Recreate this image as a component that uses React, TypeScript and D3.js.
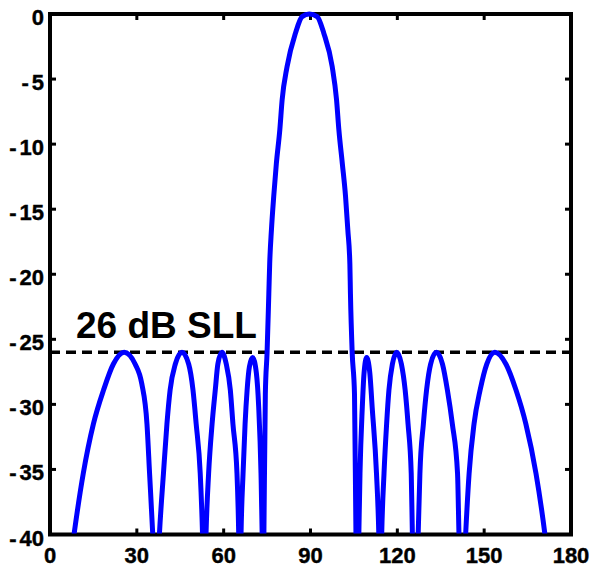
import React from "react";
import * as d3 from "d3";

// Array factor (dB) vs angle (deg)
const angleDeg: number[] = [
  6, 8.3, 11.5, 15.0, 18.5, 21.9, 25.6, 29.4, 31.7, 33.5, 34.4, 35.5, 36.6,
  37.8, 39.2, 40.4, 41.5, 43.3, 45.6, 47.9, 49.4, 50.5, 51.9, 52.7, 53.3,
  53.9, 54.8, 56.0, 57.1, 58.0, 59.4, 60.9, 62.3, 63.2, 64.6, 65.2, 65.6,
  66.0, 66.7, 67.4, 68.1, 68.9, 70.0, 71.3, 72.1, 72.9, 73.3, 73.6,
  73.9, 74.4, 75.0, 75.6, 75.9, 76.5, 77.3, 78.2, 79.4, 80.2, 81.9, 84.8, 87.1, 89.6,
  92.3, 94.6, 97.5, 99.0, 99.8, 101.0, 102.1, 102.9, 103.6, 103.8, 104.4, 105.2, 105.7, 106.2,
  106.7, 107.1, 107.9, 108.5, 109.4, 110.5, 111.3, 112.8, 113.6, 114.1,
  114.6, 115.4, 116.3, 117.1, 118.3, 119.8, 121.4, 122.7, 123.7, 124.8, 125.2, 126.2,
  127.2, 127.8, 129.0, 130.1, 131.5, 133.5, 135.6, 137.3, 139.0, 140.8, 141.3, 142.4,
  143.6, 144.8, 146.5, 148.6, 150.9, 153.7, 157.5, 161.0, 164.4, 167.9, 171.0, 174,
];
const gainDb: number[] = [
  -44, -40, -35.3, -31.5, -28.9, -26.9, -26.0, -26.9, -28.4, -31.5, -35.3, -40, -46,
  -40, -35.3, -31.5, -28.9, -26.9, -26.0, -26.9, -28.9, -31.5, -35.3, -40, -46,
  -40, -35.3, -31.5, -28.9, -26.9, -26.0, -26.9, -28.9, -31.5, -35.3, -40, -46,
  -40, -35.3, -31.5, -28.9, -27.1, -26.4, -27.6, -30.2, -35.3, -40, -46,
  -40, -29.2, -26, -21.5, -19.2, -16.6, -14, -11.5, -8.9, -6.6, -4.05, -1.48, -0.2, 0,
  -0.2, -1.48, -4.05, -6.6, -8.9, -11.5, -14, -16.6, -19.2, -21.5, -26, -29.2, -40, -46,
  -40, -35.3, -30.2, -27.6, -26.4, -27.6, -30.2, -35.3, -40, -46,
  -40, -35.3, -31.5, -28.9, -26.9, -26.0, -26.9, -28.9, -31.5, -35.3, -40, -46,
  -40, -35.3, -31.5, -28.9, -26.9, -26.0, -26.9, -28.9, -31.5, -35.3, -40, -46,
  -40, -35.3, -31.5, -28.9, -26.9, -26.0, -26.9, -28.9, -31.5, -35.3, -40, -46,
];
const xTicks: number[] = [0, 30, 60, 90, 120, 150, 180];
const yTicks: number[] = [0, -5, -10, -15, -20, -25, -30, -35, -40];
const sllLevel = -26;
const sllLabel = "26 dB SLL";

export default function App() {
  const W = 595, H = 568;
  const x = d3.scaleLinear().domain([0, 180]).range([50, 571]);
  const y = d3.scaleLinear().domain([-40, 0]).range([534.5, 14]);
  const pts: [number, number][] = angleDeg.map((a, i) => [a, gainDb[i]]);
  const line = d3
    .line<[number, number]>()
    .x((d) => x(d[0]))
    .y((d) => y(d[1]))
    .curve(d3.curveMonotoneX);
  const font = "'Liberation Sans', Arial, Helvetica, sans-serif";
  const [x0, x1] = x.range();
  const [yb, yt] = y.range();
  const tl = 6;
  return (
    <svg
      width={W}
      height={H}
      style={{ position: "absolute", left: 0, top: 0, background: "#fff" }}
    >
      <defs>
        <clipPath id="plotclip">
          <rect x={0} y={0} width={W} height={yb - 1} />
        </clipPath>
      </defs>
      <rect x={0} y={0} width={W} height={H} fill="#fff" />
      {/* ticks */}
      {xTicks.map((t) => (
        <g key={"xt" + t} stroke="#000" strokeWidth={3}>
          <line x1={x(t)} x2={x(t)} y1={yb} y2={yb - tl} />
          <line x1={x(t)} x2={x(t)} y1={yt} y2={yt + tl} />
        </g>
      ))}
      {yTicks.map((t) => (
        <g key={"yt" + t} stroke="#000" strokeWidth={3}>
          <line x1={x0} x2={x0 + tl} y1={y(t)} y2={y(t)} />
          <line x1={x1} x2={x1 - tl} y1={y(t)} y2={y(t)} />
        </g>
      ))}
      {/* box */}
      <rect
        x={x0}
        y={yt}
        width={x1 - x0}
        height={yb - yt}
        fill="none"
        stroke="#000"
        strokeWidth={4}
      />
      {/* tick labels */}
      {xTicks.map((t) => (
        <text
          key={"xl" + t}
          x={x(t)}
          y={563}
          textAnchor="middle"
          fontFamily={font}
          fontWeight="bold"
          fontSize={22}
          fill="#000"
          stroke="#000"
          strokeWidth={0.4}
        >
          {t}
        </text>
      ))}
      {yTicks.map((t) => {
        const s = String(t);
        const neg = s.startsWith("-");
        return (
          <text
            key={"yl" + t}
            x={44}
            y={y(t) + 11}
            textAnchor="end"
            fontFamily={font}
            fontWeight="bold"
            fontSize={22}
            fill="#000"
            stroke="#000"
            strokeWidth={0.4}
          >
            {neg ? (
              <>
                <tspan>-</tspan>
                <tspan dx={3}>{s.slice(1)}</tspan>
              </>
            ) : (
              s
            )}
          </text>
        );
      })}
      {/* SLL dashed line */}
      <line
        x1={x0}
        x2={x1}
        y1={y(sllLevel)}
        y2={y(sllLevel)}
        stroke="#000"
        strokeWidth={3.5}
        strokeDasharray="10,6"
      />
      <text
        x={76}
        y={338}
        fontFamily={font}
        fontWeight="bold"
        fontSize={37}
        fill="#000"
      >
        {sllLabel}
      </text>
      {/* pattern */}
      <path
        d={line(pts) || ""}
        fill="none"
        stroke="#0000ff"
        strokeWidth={5}
        strokeLinejoin="round"
        clipPath="url(#plotclip)"
      />
    </svg>
  );
}
